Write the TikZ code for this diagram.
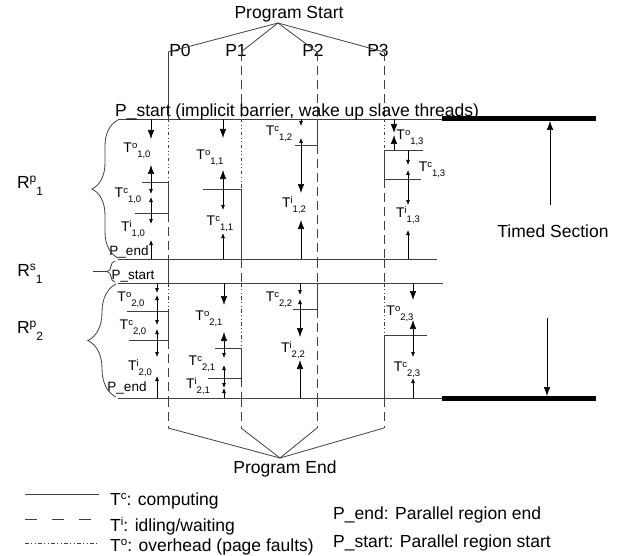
\documentclass[tikz,border=0pt]{standalone}
\usepackage{fontspec}
\setmainfont{Liberation Sans}
\usetikzlibrary{arrows.meta,decorations.pathreplacing}
\newcommand{\tsub}[2]{T\raisebox{4.5pt}{\fontsize{9.5}{10}\selectfont#1}\raisebox{-5pt}{\fontsize{9.5}{10}\selectfont#2}}
\newcommand{\rsub}[2]{R\raisebox{6pt}{\fontsize{12}{12}\selectfont#1}\raisebox{-6.5pt}{\fontsize{12}{12}\selectfont#2}}
\newcommand{\tsup}[1]{T\raisebox{6pt}{\fontsize{11.5}{12}\selectfont#1}}

\begin{document}
\begin{tikzpicture}[x=1pt,y=-1pt,font=\fontsize{17.5}{20}\selectfont,
comp/.style={draw=black!75,line width=.8pt},
idle/.style={comp,dash pattern=on 9pt off 5pt},
ovh/.style={comp,line width=.6pt,dash pattern=on 3.5pt off 2.5pt on 1pt off 2.5pt on 1pt off 2.5pt},
ar/.style={-{Latex[length=5pt,width=4pt]},line width=.7pt},
arb/.style={-{Latex[length=9pt,width=6.5pt]},line width=.7pt},
bar/.style={line width=5pt},
tl/.style={font=\fontsize{14}{16}\selectfont,inner sep=0pt},
pl/.style={font=\fontsize{13.5}{16}\selectfont,inner sep=0pt},
brc/.style={comp,decorate,decoration={brace,amplitude=#1}}]
\useasboundingbox(0,0)rectangle(623,556);

\node[inner sep=0pt](pst)at(289,14){Program Start};
\coordinate(top)at(278,23);
\node[inner sep=0pt](p0)at(180,50){P0};
\node[inner sep=0pt](p1)at(236,50){P1};
\node[inner sep=0pt](p2)at(313,50){P2};
\node[inner sep=0pt](p3)at(378,50){P3};
\foreach \x/\n in {168/0,241/1,317/2,384/3}{\coordinate(h\n)at(\x,52);\coordinate(e\n)at(\x,428);}
\foreach \n in {0,...,3}\draw[comp](top)--(h\n);
\draw[comp](h0)--(168,119);
\foreach \n in {1,2,3}\draw[idle](h\n)--(h\n|-0,119);

\draw[comp](118,119)--(442,119);\draw[bar](442,119)--(596,119);
\node[anchor=base west,inner sep=0pt](pbar)at(115,116.5){P\_start (implicit barrier, wake up slave threads)};
\draw[comp](118,259)--(437,259);
\draw[comp](118,283)--(443,283);
\draw[comp](118,398)--(442,398);\draw[bar](442,398)--(596,398);

\draw[ovh](168,119)--(168,182);\draw[comp](142,182)--(168,182)--(168,213)--(135,213);\draw[idle](168,213)--(168,259);
\draw[ovh](241,119)--(241,189);\draw[comp](203,189)--(241,189)--(241,259);
\draw[comp](317,119)--(317,145)--(295,145);\draw[idle](317,145)--(317,259);
\draw[ovh](384,119)--(384,150);\draw[comp](423,150)--(384,150)--(384,179)--(421,179);\draw[idle](384,179)--(384,259);

\draw[comp](168,259)--(168,283);
\foreach \x in {241,317,384}\draw[idle](\x,259)--(\x,283);

\draw[ovh](168,283)--(168,311);\draw[comp](127,311)--(168,311)--(168,340)--(129,340);\draw[idle](168,340)--(168,398);
\draw[ovh](241,283)--(241,348);\draw[comp](215,348)--(241,348)--(241,378)--(208,378);\draw[idle](241,378)--(241,398);
\draw[comp](317,283)--(317,309)--(293,309);\draw[idle](317,309)--(317,398);
\draw[ovh](384,283)--(384,335);\draw[comp](427,335)--(384,335)--(384,398);

\foreach \n in {0,...,3}\draw[idle](e\n|-0,398)--(e\n);
\coordinate(bot)at(280,458);
\foreach \n in {0,...,3}\draw[comp](e\n)--(bot);
\node[inner sep=0pt](pend)at(285,469){Program End};

\draw[arb](151,119)--(151,139);\draw[arb](151,182)--(151,165);
\draw[ar](151,182)--(151,194);\draw[ar](151,213)--(151,197);
\draw[ar](151,213)--(151,224);\draw[ar](151,259)--(151,240);
\draw[arb](223,119)--(223,138);\draw[arb](223,189)--(223,170);
\draw[ar](223,189)--(223,210);\draw[ar](223,259)--(223,233);
\draw[ar](301,119)--(301,126);\draw[ar](301,145)--(301,138);
\draw[arb](301,145)--(301,193);\draw[arb](301,259)--(301,220);
\draw[arb](394,119)--(394,133);\draw[arb](394,150)--(394,135);
\draw[ar](408,150)--(408,165);\draw[ar](408,179)--(408,170);
\draw[ar](408,179)--(408,205);\draw[ar](408,259)--(408,230);

\draw[ar](157,283)--(157,293);\draw[ar](157,311)--(157,295);
\draw[ar](157,311)--(157,325);\draw[ar](157,340)--(157,329);
\draw[ar](157,340)--(157,357);\draw[ar](157,398)--(157,376);
\draw[arb](224,283)--(224,305);\draw[arb](224,348)--(224,332);
\draw[ar](224,348)--(224,358);\draw[ar](224,378)--(224,365);
\draw[ar](224,378)--(224,388);\draw[ar](224,398)--(224,388);
\draw[ar](300,283)--(300,295);\draw[ar](300,309)--(300,299);
\draw[arb](300,309)--(300,337);\draw[arb](300,398)--(300,360);
\draw[arb](413,283)--(413,300);\draw[arb](413,335)--(413,320);
\draw[ar](413,335)--(413,357);\draw[ar](413,398)--(413,378);

\node[tl](o10)at(137,151){\tsub{o}{1,0}};
\node[tl](c10)at(128,196){\tsub{c}{1,0}};
\node[tl](i10)at(133,229){\tsub{i}{1,0}};
\node[tl](o11)at(210,158){\tsub{o}{1,1}};
\node[tl](c11)at(220,224){\tsub{c}{1,1}};
\node[tl](c12)at(279,134){\tsub{c}{1,2}};
\node[tl](i12)at(294,205){\tsub{i}{1,2}};
\node[tl](o13)at(410,138){\tsub{o}{1,3}};
\node[tl](c13)at(432,170){\tsub{c}{1,3}};
\node[tl](i13)at(408,215){\tsub{i}{1,3}};
\node[tl](o20)at(131,300){\tsub{o}{2,0}};
\node[tl](c20)at(133,328){\tsub{c}{2,0}};
\node[tl](i20)at(140,368){\tsub{i}{2,0}};
\node[tl](o21)at(209,319){\tsub{o}{2,1}};
\node[tl](c21)at(202,364){\tsub{c}{2,1}};
\node[tl](i21)at(198,386){\tsub{i}{2,1}};
\node[tl](c22)at(279,300){\tsub{c}{2,2}};
\node[tl](i22)at(293,350){\tsub{i}{2,2}};
\node[tl](o23)at(400,314){\tsub{o}{2,3}};
\node[tl](c23)at(407,370){\tsub{c}{2,3}};

\node[pl](pe1)at(129,252){P\_end};
\node[pl](ps1)at(133,276){P\_start};
\node[pl](pe2)at(127,388){P\_end};

\draw[brc=26pt](118,258)--(118,120);
\draw[brc=8pt](115,282)--(115,261);\draw[comp](107,271.5)--(93,271.5);
\draw[brc=28pt](116,397)--(116,284);
\node[inner sep=0pt](r1)at(30,186){\rsub{p}{1}};
\node[inner sep=0pt](rs)at(30,274){\rsub{s}{1}};
\node[inner sep=0pt](r2)at(30,331){\rsub{p}{2}};

\node[inner sep=0pt](timed)at(553,231){Timed Section};
\draw[arb](550,205)--(550,121);
\draw[arb](547,318)--(547,396);

\draw[comp](25,494)--(99,494);\node[anchor=west,inner sep=0pt](lc)at(110,501){\tsup{c}: computing};
\draw[idle,dash pattern=on 12pt off 15pt](25,519)--(99,519);\node[anchor=west,inner sep=0pt](li)at(110,526){\tsup{i}: idling/waiting};
\draw[ovh](25,543)--(99,543);\node[anchor=west,inner sep=0pt](lo)at(110,547){\tsup{o}: overhead (page faults)};
\node[anchor=west,inner sep=0pt](lpe)at(333,515){P\_end: Parallel region end};
\node[anchor=west,inner sep=0pt](lps)at(333,543){P\_start: Parallel region start};
\end{tikzpicture}
\end{document}
